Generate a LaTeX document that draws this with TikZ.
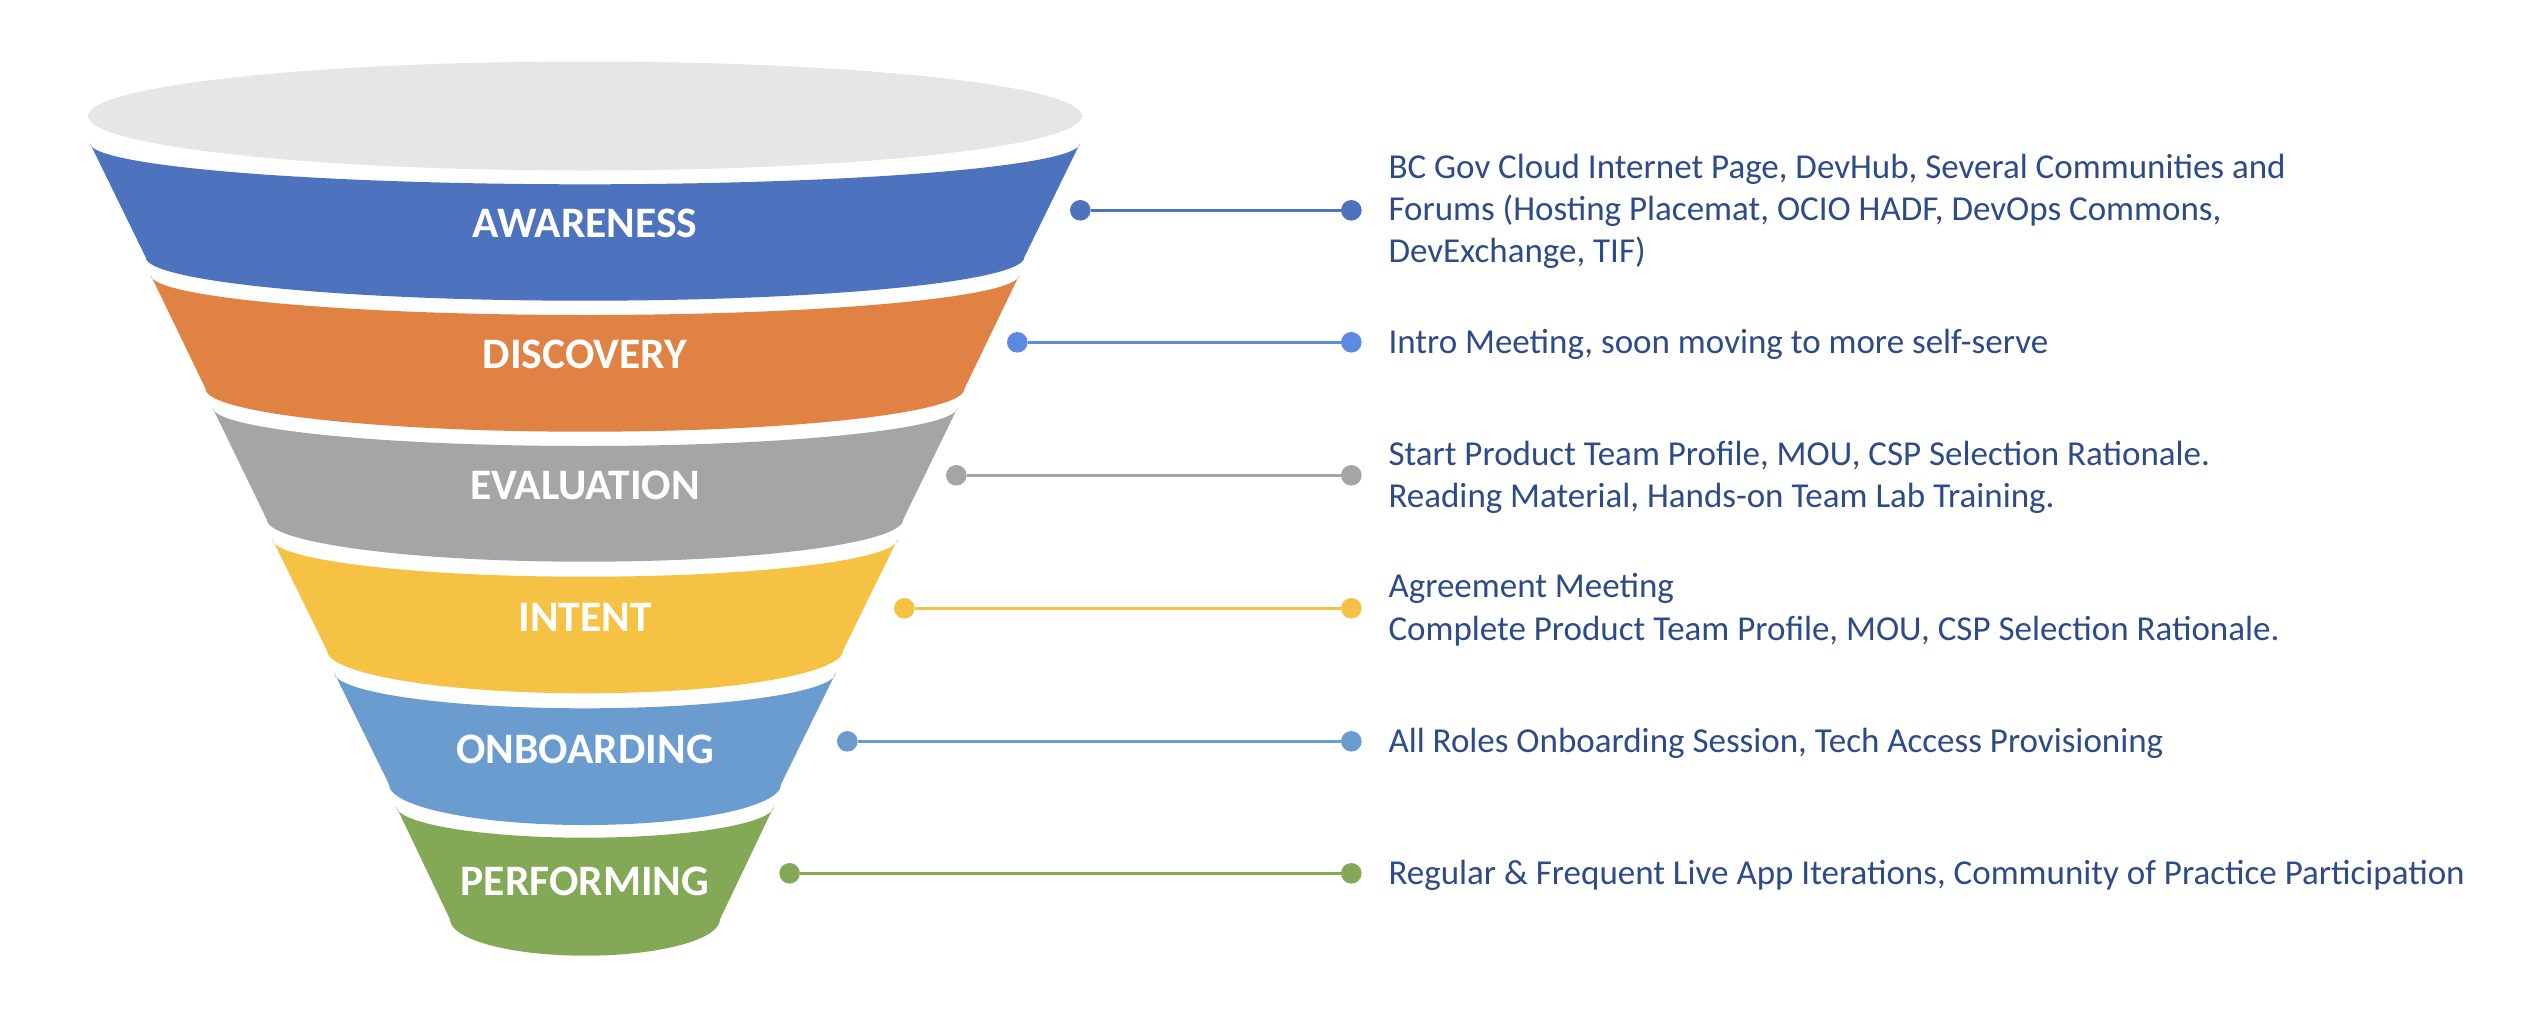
\documentclass[tikz,border=0pt]{standalone}
\usepackage{fontspec}
\setmainfont{Carlito}
\definecolor{elgray}{HTML}{E6E6E6}
\definecolor{awc}{HTML}{4D73BE}
\definecolor{dic}{HTML}{DF8244}
\definecolor{dil}{HTML}{5A8BE0}
\definecolor{evc}{HTML}{A5A5A5}
\definecolor{inc}{HTML}{F6C243}
\definecolor{onc}{HTML}{6A9CD0}
\definecolor{pec}{HTML}{83A957}
\definecolor{txtblue}{HTML}{2D4B87}
\newcommand\funnelband[7]{\fill[#1] ({585-#3},-#2) arc[start angle=180,end angle=360,x radius=#3,y radius=#4] -- ({585+#6},-#5) arc[start angle=360,end angle=180,x radius=#6,y radius=#7] -- cycle;}
\begin{document}
\begin{tikzpicture}[x=1pt,y=1pt,
  lbl/.style={text=white, font=\fontsize{43.5}{52}\selectfont\bfseries, inner sep=0, anchor=base},
  desc/.style={text=txtblue, font=\fontsize{35}{42}\selectfont, inner sep=0, anchor=base west},
  pdot/.style={circle, inner sep=0, minimum size=20.6pt, fill=#1},
  conn/.style={draw=#1, line width=3pt}]
\useasboundingbox[fill=white] (0,0) rectangle (2532,-1010);
% top ellipse
\fill[elgray] (585,-116) ellipse[x radius=497, y radius=54.5];
% bands
\funnelband{awc}{143.3}{495}{41}{257.3}{439.3}{43.4}
\funnelband{dic}{275}{434.3}{40}{389}{379.3}{42.7}
\funnelband{evc}{407.3}{372.7}{38.7}{519.3}{318.3}{42.4}
\funnelband{inc}{539}{312.7}{37.7}{650}{258.3}{43.3}
\funnelband{onc}{672.3}{251}{36}{784.3}{196}{40.7}
\funnelband{pec}{806}{189}{31.7}{919.3}{135}{36.4}
% labels
\node[lbl] (l1) at (585,-237.3) {AWARENESS};
\node[lbl] (l2) at (585,-368.3) {DISCOVERY};
\node[lbl] (l3) at (585,-499) {EVALUATION};
\node[lbl] (l4) at (585,-631) {INTENT};
\node[lbl] (l5) at (585,-763.3) {ONBOARDING};
\node[lbl] (l6) at (585,-895.7) {PERFORMING};
% connectors
\node[pdot=awc] (a1) at (1080.3,-210.3) {};
\node[pdot=awc] (a2) at (1351.3,-210.3) {};
\draw[conn=awc] (a1) -- (a2);
\node[pdot=dil] (b1) at (1017.3,-342.3) {};
\node[pdot=dil] (b2) at (1351.3,-342.3) {};
\draw[conn=dil] (b1) -- (b2);
\node[pdot=evc] (c1) at (956.3,-475.3) {};
\node[pdot=evc] (c2) at (1351.3,-475.3) {};
\draw[conn=evc] (c1) -- (c2);
\node[pdot=inc] (d1) at (904.3,-608.3) {};
\node[pdot=inc] (d2) at (1351.3,-608.3) {};
\draw[conn=inc] (d1) -- (d2);
\node[pdot=onc] (e1) at (847.3,-741.3) {};
\node[pdot=onc] (e2) at (1351.3,-741.3) {};
\draw[conn=onc] (e1) -- (e2);
\node[pdot=pec] (f1) at (789.6,-873.3) {};
\node[pdot=pec] (f2) at (1351.3,-873.3) {};
\draw[conn=pec] (f1) -- (f2);
% descriptions
\node[desc] (t1a) at (1388.3,-178.3) {BC Gov Cloud Internet Page, DevHub, Several Communities and};
\node[desc] (t1b) at (1388.3,-220.7) {Forums (Hosting Placemat, OCIO HADF, DevOps Commons,};
\node[desc] (t1c) at (1388.3,-262.7) {DevExchange, TIF)};
\node[desc] (t2) at (1388.3,-353.2) {Intro Meeting, soon moving to more self-serve};
\node[desc] (t3a) at (1388.3,-465) {Start Product Team Profile, MOU, CSP Selection Rationale.};
\node[desc] (t3b) at (1388.3,-507.3) {Reading Material, Hands-on Team Lab Training.};
\node[desc] (t4a) at (1388.3,-597.3) {Agreement Meeting};
\node[desc] (t4b) at (1388.3,-640) {Complete Product Team Profile, MOU, CSP Selection Rationale.};
\node[desc] (t5) at (1388.3,-752.2) {All Roles Onboarding Session, Tech Access Provisioning};
\node[desc] (t6) at (1388.3,-884.2) {Regular \& Frequent Live App Iterations, Community of Practice Participation};
\end{tikzpicture}
\end{document}
